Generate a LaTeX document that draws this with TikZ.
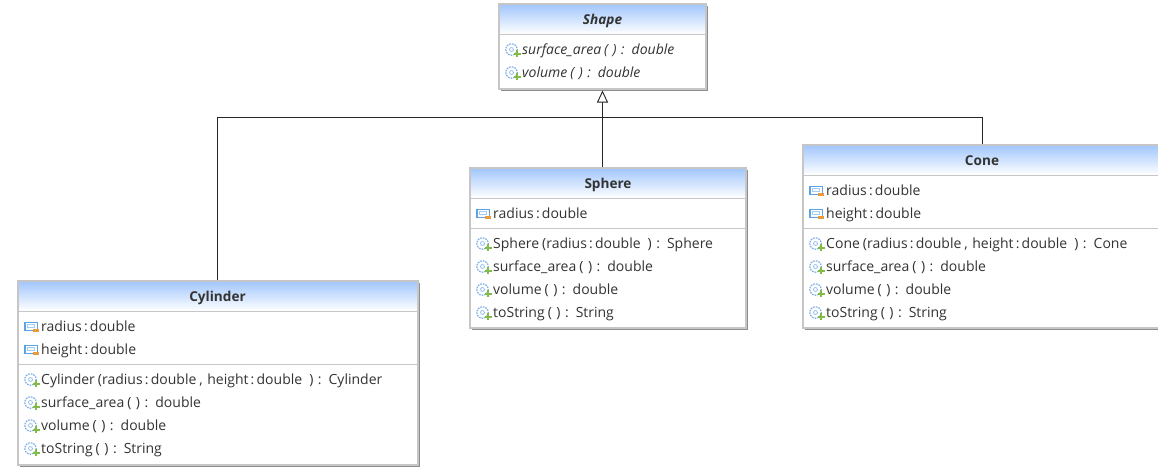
\documentclass[tikz,border=0pt]{standalone}
\usepackage{fontspec}
\setmainfont{Open Sans}
\usetikzlibrary{arrows.meta}
\definecolor{frameg}{HTML}{C6C6C6}
\definecolor{shadeg}{HTML}{8E8E8E}
\definecolor{headtop}{HTML}{A4C8FC}
\definecolor{textc}{HTML}{333333}
\definecolor{iconb}{HTML}{7DB0EA}
\definecolor{iconf}{HTML}{5CA3E6}
\definecolor{iconm}{HTML}{EE9A3A}
\definecolor{iconp}{HTML}{82BC45}
\tikzset{
  umlframe/.style={draw=frameg,line width=2pt,fill=white,anchor=north west,inner sep=0pt,outer sep=0pt},
  umlshadow/.style={fill=shadeg,draw=none},
  umlhead/.style={top color=headtop,bottom color=white,draw=none},
  umlsep/.style={draw=frameg,line width=1pt},
  umltitle/.style={font=\fontsize{13.6}{16}\selectfont\bfseries,text=textc,inner sep=0pt,anchor=base},
  umlmember/.style={font=\fontsize{14}{16}\selectfont,text=textc,inner sep=0pt,anchor=base west},
  umllink/.style={draw=black!85,line width=0.9pt},
  umlinherit/.style={umllink,-{Triangle[open,length=12pt,width=11pt,fill=white]}},
}
% box: name, left, top, right, bottom, header bottom
\newcommand{\umlbox}[6]{%
  \fill[umlshadow] (#2+2,#3+2) rectangle (#4+2,#5+2);
  \node[umlframe,minimum width=#4-#2,minimum height=#5-#3] (#1) at (#2,#3) {};
  \shade[umlhead] (#2+1,#3+1) rectangle (#4-1,#6-1);
  \draw[umlsep] (#2+1,#6-0.5) -- (#4-1,#6-0.5);
}
\newcommand{\opicon}[2]{%
  \begin{scope}[shift={(#1,#2)}]
    \draw[iconb,line width=1.2pt,dash pattern=on 1.7pt off 1pt] (-0.5,0.5) circle (5.7);
    \draw[iconb,line width=0.9pt,dash pattern=on 1.2pt off 0.8pt] (-0.5,0.5) circle (2);
    \fill[iconp] (1.8,3.7) rectangle (8.6,6);
    \fill[iconp] (4.05,1.45) rectangle (6.35,8.25);
  \end{scope}}
\newcommand{\fieldicon}[2]{%
  \begin{scope}[shift={(#1,#2)}]
    \draw[iconf,line width=1.1pt] (-6,-3.5) rectangle (6.5,4.5);
    \draw[iconf!55,line width=0.9pt] (-3.5,-1.2) -- (3.8,-1.2) -- (3.8,1.8) -- (-3.5,1.8) -- cycle;
    \fill[iconm] (1.8,3.4) rectangle (8,5.6);
  \end{scope}}
% name, x of icon centre, y of line centre, text
\newcommand{\opline}[4]{\opicon{#2-1}{#3}\node[umlmember] (#1) at (#2+9,#3+5) {#4};}
\newcommand{\fdline}[4]{\fieldicon{#2-1}{#3}\node[umlmember] (#1) at (#2+9,#3+5) {#4};}
\newcommand{\gaps}{\hspace{3pt}}
\newcommand{\gapm}{\hspace{4.5pt}}
\newcommand{\gapl}{\hspace{7pt}}
\newcommand{\ty}{\hspace{2.2pt}:\hspace{2.2pt}}
\newcommand{\noargs}[2]{#1\gaps(\gapm)\gapm:\gapl #2}
\begin{document}
\begin{tikzpicture}[x=1pt,y=-1pt]
\useasboundingbox (0,0) rectangle (1158,467);
\clip (0,0) rectangle (1158,467);
\fill[white] (0,0) rectangle (1158,467);

\umlbox{shape}{499}{4}{706}{89}{35}
\node[umltitle,font=\fontsize{13.6}{16}\selectfont\bfseries\itshape] (shapet) at (602.5,24.5) {Shape};
\opline{sa}{513}{49}{\itshape\noargs{surface\_area}{double}}
\opline{sv}{513}{72}{\itshape\noargs{volume}{double}}

\umlbox{sphere}{470}{168}{746}{328}{199}
\node[umltitle] (spheret) at (608,188.5) {Sphere};
\fdline{spr}{484}{213}{radius\ty double}
\draw[umlsep] (471,228.5) -- (745,228.5);
\opline{spc}{484}{243}{Sphere\gaps(radius\ty double\gapl)\gapm:\gapl Sphere}
\opline{spa}{484}{266}{\noargs{surface\_area}{double}}
\opline{spv}{484}{289}{\noargs{volume}{double}}
\opline{sps}{484}{312}{\noargs{toString}{String}}

\umlbox{cone}{803}{145}{1162}{328}{176}
\node[umltitle] (conet) at (982,165.5) {Cone};
\fdline{cor}{817}{190}{radius\ty double}
\fdline{coh}{817}{213}{height\ty double}
\draw[umlsep] (804,228.5) -- (1161,228.5);
\opline{coc}{817}{243}{Cone\gaps(radius\ty double\gaps,\gapm height\ty double\gapl)\gapm:\gapl Cone}
\opline{coa}{817}{266}{\noargs{surface\_area}{double}}
\opline{cov}{817}{289}{\noargs{volume}{double}}
\opline{cos}{817}{312}{\noargs{toString}{String}}

\umlbox{cyl}{18}{281}{418}{465}{312}
\node[umltitle] (cylt) at (217.5,301.5) {Cylinder};
\fdline{cyr}{32}{326}{radius\ty double}
\fdline{cyh}{32}{349}{height\ty double}
\draw[umlsep] (19,364.5) -- (417,364.5);
\opline{cyc}{32}{379}{Cylinder\gaps(radius\ty double\gaps,\gapm height\ty double\gapl)\gapm:\gapl Cylinder}
\opline{cya}{32}{402}{\noargs{surface\_area}{double}}
\opline{cyv}{32}{425}{\noargs{volume}{double}}
\opline{cys}{32}{448}{\noargs{toString}{String}}

\coordinate (shapein) at (602.5,90.5);
\coordinate (join) at (602.5,117.5);
\coordinate (spheretop) at (602.5,167);
\coordinate (conetop) at (982.5,144);
\coordinate (cyltop) at (217.5,280);
\draw[umllink] (cyltop) |- (join);
\draw[umllink] (conetop) |- (join);
\draw[umlinherit] (spheretop) -- (shapein);
\end{tikzpicture}
\end{document}
